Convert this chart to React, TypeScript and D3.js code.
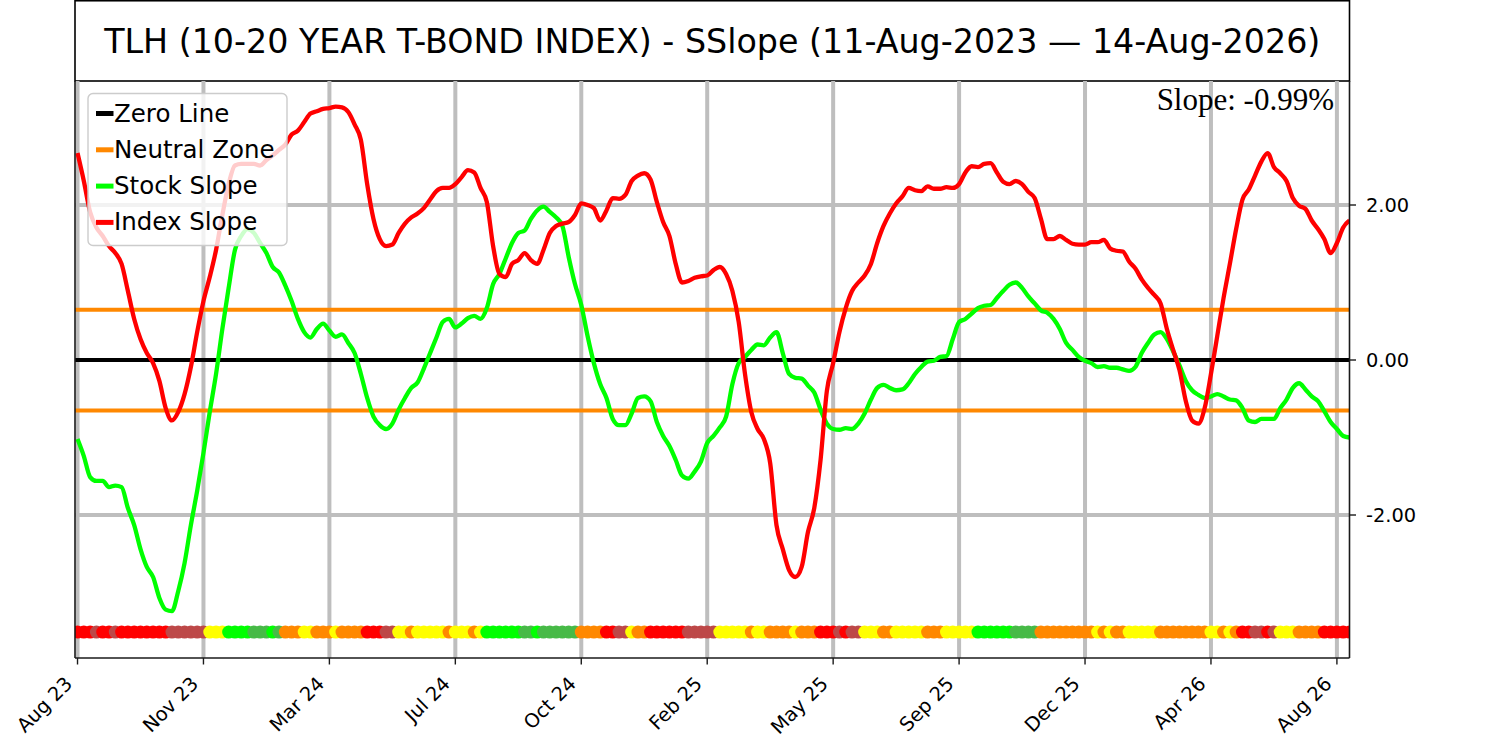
import { useEffect } from "react";
import * as d3 from "d3";

// weekly-ish sample index, ticks labelled every 20 samples
const tickLabels = ["Aug 23", "Nov 23", "Mar 24", "Jul 24", "Oct 24", "Feb 25", "May 25", "Sep 25", "Dec 25", "Apr 26", "Aug 26"];
const tickStep = 20;
const yTicks = [-2, 0, 2];
const neutralBand = [-0.65, 0.65];

const indexSlope = [
  2.67, 2.31, 1.91, 1.71, 1.6, 1.47, 1.38, 1.24, 0.89, 0.53,
  0.27, 0.09, -0.04, -0.27, -0.62, -0.78, -0.67, -0.44, -0.09, 0.36,
  0.76, 1.07, 1.42, 1.87, 2.27, 2.51, 2.53, 2.53, 2.53, 2.51,
  2.58, 2.64, 2.71, 2.78, 2.91, 2.96, 3.07, 3.18, 3.21, 3.24,
  3.25, 3.27, 3.26, 3.2, 3.04, 2.84, 2.27, 1.82, 1.56, 1.47,
  1.49, 1.64, 1.76, 1.84, 1.89, 1.96, 2.07, 2.18, 2.22, 2.22,
  2.27, 2.36, 2.45, 2.42, 2.22, 2.04, 1.47, 1.11, 1.07, 1.24,
  1.29, 1.38, 1.29, 1.24, 1.42, 1.64, 1.73, 1.76, 1.78, 1.87,
  2.02, 2.0, 1.96, 1.8, 1.93, 2.09, 2.08, 2.13, 2.31, 2.38,
  2.41, 2.33, 2.04, 1.78, 1.6, 1.24, 1.0, 1.02, 1.06, 1.08,
  1.09, 1.16, 1.2, 1.11, 0.89, 0.49, -0.18, -0.67, -0.89, -1.02,
  -1.33, -2.13, -2.44, -2.71, -2.8, -2.67, -2.22, -1.91, -1.29, -0.4,
  -0.04, 0.36, 0.67, 0.89, 1.0, 1.09, 1.24, 1.51, 1.73, 1.89,
  2.02, 2.11, 2.22, 2.19, 2.18, 2.24, 2.21, 2.21, 2.23, 2.22,
  2.27, 2.42, 2.5, 2.49, 2.53, 2.54, 2.42, 2.3, 2.27, 2.31,
  2.27, 2.17, 2.09, 1.82, 1.56, 1.56, 1.6, 1.55, 1.5, 1.49,
  1.49, 1.52, 1.52, 1.55, 1.44, 1.41, 1.4, 1.27, 1.18, 1.04,
  0.93, 0.84, 0.73, 0.4, 0.13, -0.13, -0.53, -0.78, -0.82, -0.62,
  -0.18, 0.31, 0.8, 1.24, 1.69, 2.07, 2.2, 2.38, 2.56, 2.67,
  2.49, 2.41, 2.31, 2.09, 1.99, 1.95, 1.8, 1.69, 1.56, 1.38,
  1.51, 1.71, 1.8,
];

const stockSlope = [
  -1.02, -1.24, -1.51, -1.56, -1.56, -1.64, -1.62, -1.64, -1.91, -2.13,
  -2.44, -2.67, -2.8, -3.07, -3.22, -3.24, -2.98, -2.62, -2.13, -1.69,
  -1.2, -0.67, -0.18, 0.4, 0.93, 1.42, 1.6, 1.69, 1.64, 1.51,
  1.38, 1.2, 1.13, 0.96, 0.76, 0.53, 0.36, 0.29, 0.4, 0.47,
  0.38, 0.3, 0.33, 0.22, 0.09, -0.18, -0.49, -0.73, -0.84, -0.89,
  -0.82, -0.64, -0.49, -0.36, -0.29, -0.11, 0.09, 0.29, 0.49, 0.53,
  0.42, 0.47, 0.54, 0.57, 0.53, 0.67, 0.98, 1.11, 1.31, 1.51,
  1.64, 1.67, 1.82, 1.93, 1.98, 1.91, 1.84, 1.73, 1.33, 0.98,
  0.71, 0.31, -0.04, -0.31, -0.49, -0.76, -0.84, -0.84, -0.69, -0.49,
  -0.47, -0.53, -0.8, -0.98, -1.11, -1.29, -1.49, -1.53, -1.44, -1.31,
  -1.07, -0.98, -0.87, -0.73, -0.31, -0.04, 0.04, 0.13, 0.2, 0.19,
  0.29, 0.36, 0.09, -0.18, -0.23, -0.24, -0.33, -0.42, -0.64, -0.82,
  -0.89, -0.9, -0.88, -0.89, -0.82, -0.69, -0.51, -0.36, -0.32, -0.36,
  -0.39, -0.38, -0.3, -0.18, -0.09, -0.02, -0.01, 0.04, 0.05, 0.27,
  0.49, 0.53, 0.6, 0.67, 0.7, 0.71, 0.8, 0.89, 0.97, 1.0,
  0.93, 0.82, 0.73, 0.64, 0.61, 0.53, 0.4, 0.22, 0.13, 0.04,
  -0.01, -0.04, -0.09, -0.08, -0.1, -0.1, -0.12, -0.14, -0.09, 0.09,
  0.22, 0.33, 0.36, 0.27, 0.11, -0.07, -0.27, -0.39, -0.45, -0.49,
  -0.47, -0.44, -0.47, -0.51, -0.52, -0.62, -0.78, -0.8, -0.76, -0.76,
  -0.76, -0.62, -0.51, -0.36, -0.3, -0.38, -0.47, -0.53, -0.66, -0.8,
  -0.89, -0.98, -1.0,
];

// signal state per sample, as runs of [state, count]
// R strong sell, B sell, O neutral-weak, Y neutral, L strong buy, G buy
const stateRuns: [string, number][] = [
  ["R", 3], ["B", 1], ["R", 2], ["B", 1], ["R", 8], ["B", 6], ["Y", 3], ["L", 4], ["G", 3], ["L", 1],
  ["G", 1], ["O", 3], ["Y", 2], ["O", 3], ["Y", 1], ["O", 4], ["R", 3], ["B", 2], ["Y", 2], ["O", 1],
  ["Y", 5], ["O", 1], ["Y", 3], ["O", 1], ["Y", 1], ["L", 6], ["G", 2], ["L", 1], ["G", 6], ["O", 4],
  ["R", 2], ["B", 2], ["Y", 1], ["O", 2], ["R", 6], ["B", 5], ["Y", 5], ["O", 1], ["Y", 2], ["O", 4],
  ["Y", 1], ["O", 3], ["R", 3], ["B", 1], ["R", 1], ["B", 2], ["Y", 3], ["O", 2], ["Y", 5], ["O", 3],
  ["Y", 5], ["L", 6], ["G", 4], ["O", 9], ["Y", 1], ["O", 1], ["Y", 1], ["O", 2], ["Y", 5], ["O", 8],
  ["Y", 2], ["O", 1], ["Y", 1], ["O", 1], ["R", 2], ["B", 2], ["R", 1], ["B", 1], ["Y", 3], ["O", 4],
  ["R", 5],
];

const stateColor: Record<string, string> = {
  R: "#ff0000",
  B: "#bd4848",
  O: "#ff8800",
  Y: "#ffff00",
  L: "#00ff00",
  G: "#47ba47",
};

const legendItems = [
  { label: "Zero Line", color: "#000000" },
  { label: "Neutral Zone", color: "#ff8800" },
  { label: "Stock Slope", color: "#00ff00" },
  { label: "Index Slope", color: "#ff0000" },
];

export default function App() {
  useEffect(() => {
    document.body.style.margin = "0";
  }, []);

  const width = 1500;
  const height = 741;
  const left = 75, right = 1349.5, top = 81, bottom = 658;

  const x = d3.scaleLinear().domain([-0.4, 202]).range([left, right]);
  const y = d3.scaleLinear().domain([-3.845, 3.6]).range([bottom, top]);

  const states = stateRuns.flatMap(([s, n]) => Array.from({ length: n }, () => s));
  const bandValue = -3.51;

  const line = d3
    .line<number>()
    .x((_, i) => x(i))
    .y((d) => y(d))
    .curve(d3.curveMonotoneX);

  const ticks = tickLabels.map((label, k) => ({ label, pos: k * tickStep }));
  const fontSans = "'DejaVu Sans', sans-serif";

  return (
    <svg width={width} height={height} style={{ display: "block", background: "#fff" }}>
      <defs>
        <clipPath id="plot">
          <rect x={left} y={top} width={right - left} height={bottom - top} />
        </clipPath>
      </defs>

      {/* title box */}
      <rect x={left} y={0.75} width={right - left} height={top - 0.75} fill="#fff" stroke="#000" strokeWidth={1.6} />
      <text x={(left + right) / 2} y={52.5} textAnchor="middle" fontFamily={fontSans} fontSize={33.3} fill="#000">
        TLH (10-20 YEAR T-BOND INDEX) - SSlope (11-Aug-2023 — 14-Aug-2026)
      </text>

      <g clipPath="url(#plot)">
        {/* grid */}
        {ticks.map((t) => (
          <line key={t.label} x1={x(t.pos)} x2={x(t.pos)} y1={top} y2={bottom} stroke="#bebebe" strokeWidth={4} />
        ))}
        {yTicks.map((v) => (
          <line key={v} x1={left} x2={right} y1={y(v)} y2={y(v)} stroke="#bebebe" strokeWidth={4} />
        ))}

        {/* reference lines */}
        <line x1={left} x2={right} y1={y(0)} y2={y(0)} stroke="#000" strokeWidth={4} />
        {neutralBand.map((v) => (
          <line key={v} x1={left} x2={right} y1={y(v)} y2={y(v)} stroke="#ff8800" strokeWidth={4} />
        ))}

        {/* signal band */}
        {states.map((s, i) => (
          <circle key={i} cx={x(i)} cy={y(bandValue)} r={6.5} fill={stateColor[s]} />
        ))}

        <path d={line(stockSlope) ?? ""} fill="none" stroke="#00ff00" strokeWidth={4.3} strokeLinejoin="round" />
        <path d={line(indexSlope) ?? ""} fill="none" stroke="#ff0000" strokeWidth={4.3} strokeLinejoin="round" />
      </g>

      {/* spines */}
      <line x1={left} x2={left} y1={top} y2={bottom} stroke="#1a1a1a" strokeWidth={1.6} />
      <line x1={right} x2={right} y1={top} y2={bottom} stroke="#1a1a1a" strokeWidth={1.6} />
      <line x1={left} x2={right} y1={bottom} y2={bottom} stroke="#1a1a1a" strokeWidth={1.6} />

      {/* right y axis */}
      {yTicks.map((v) => (
        <g key={v}>
          <line x1={right} x2={right + 6.5} y1={y(v)} y2={y(v)} stroke="#1a1a1a" strokeWidth={1.4} />
          <text x={right + 16.5} y={y(v)} dy="0.36em" fontFamily={fontSans} fontSize={19.4} fill="#000">
            {d3.format(".2f")(v).replace("−", "-")}
          </text>
        </g>
      ))}

      {/* bottom x axis */}
      {ticks.map((t) => {
        const tx = x(t.pos);
        return (
          <g key={t.label}>
            <line x1={tx} x2={tx} y1={bottom} y2={bottom + 6.5} stroke="#1a1a1a" strokeWidth={1.4} />
            <text
              transform={`translate(${tx - 4},${bottom + 27}) rotate(-45)`}
              textAnchor="end"
              fontFamily={fontSans}
              fontSize={19.4}
              fill="#000"
            >
              {t.label}
            </text>
          </g>
        );
      })}

      {/* legend */}
      <rect x={88} y={93.5} width={199} height={152} rx={5} fill="#fff" fillOpacity={0.8} stroke="#cccccc" strokeWidth={1.4} />
      {legendItems.map((d, k) => {
        const base = 121.5 + k * 36.3;
        return (
          <g key={d.label}>
            <line x1={96} x2={113.5} y1={base - 8} y2={base - 8} stroke={d.color} strokeWidth={5} />
            <text x={114} y={base} fontFamily={fontSans} fontSize={24.5} fill="#000">
              {d.label}
            </text>
          </g>
        );
      })}

      <text x={1334} y={109.5} textAnchor="end" fontFamily="'Liberation Serif', serif" fontSize={31} fill="#000">
        Slope: -0.99%
      </text>
    </svg>
  );
}
